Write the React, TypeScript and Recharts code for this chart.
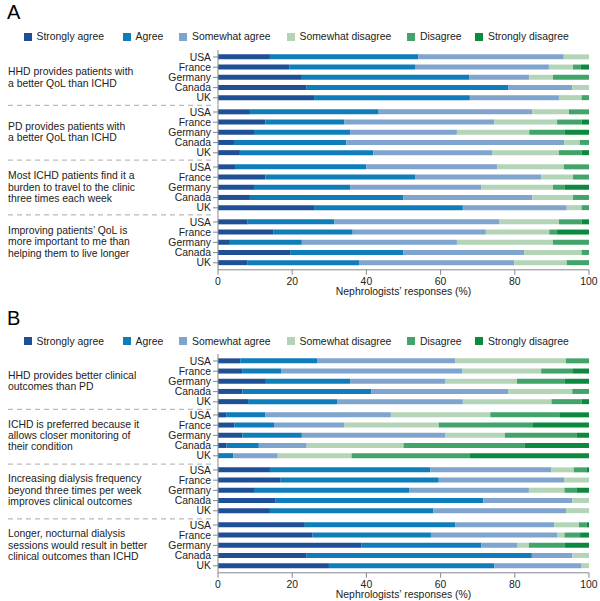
import React from "react";
import { Bar, BarChart, XAxis, YAxis } from "recharts";

const countries = ["USA", "France", "Germany", "Canada", "UK"];
const responseLevels = [
  "Strongly agree",
  "Agree",
  "Somewhat agree",
  "Somewhat disagree",
  "Disagree",
  "Strongly disagree",
];
const levelColors = ["#1f4f94", "#0f7dba", "#7fa4cd", "#b4d4b7", "#43a46a", "#0b8a3d"];
const xTicks = [0, 20, 40, 60, 80, 100];

// panel A - rows follow the countries order, columns follow responseLevels
const hhdBetterQol = [
  [14, 40, 39.2, 6.8, 0, 0],
  [19.2, 33.9, 36.1, 6.5, 2.0, 2.3],
  [22.6, 45.2, 16.1, 6.4, 9.7, 0],
  [23.9, 54.3, 17.3, 4.5, 0, 0],
  [25.9, 42, 24, 6.1, 2.0, 0],
];
const pdBetterQol = [
  [8.6, 34.7, 41.4, 9.9, 5.4, 0],
  [12.8, 21.3, 40.4, 16.9, 6.6, 2.0],
  [9.7, 25.9, 28.8, 19.5, 9.6, 6.5],
  [4.3, 30.3, 58.7, 4.2, 2.5, 0],
  [5.9, 36, 32.1, 17.9, 6.1, 2.0],
];
const travelBurden = [
  [4.8, 35.2, 35.3, 17.9, 6.8, 0],
  [12.8, 40.3, 34, 8.6, 4.3, 0],
  [9.7, 25.9, 35.4, 19.3, 3.2, 6.5],
  [8.6, 41.4, 34.7, 11, 4.3, 0],
  [25.9, 40.1, 28, 4, 2, 0],
];
const qolOverLongevity = [
  [8, 23.4, 44.5, 16, 6.1, 2],
  [15, 21.3, 35.9, 17.1, 2.1, 8.6],
  [3.2, 19.4, 41.8, 25.9, 9.7, 0],
  [19.6, 30.4, 32.6, 15.4, 2, 0],
  [8, 30, 41.9, 14.1, 6, 0],
];

// panel B
const hhdBetterOutcomes = [
  [6, 20.7, 37.2, 29.9, 6.2, 0],
  [6.5, 10.5, 48.9, 21.2, 8.4, 4.5],
  [12.9, 22.7, 25.6, 19.4, 12.9, 6.5],
  [6.6, 34.7, 37, 17.2, 4.5, 0],
  [8.1, 24, 33.9, 23.9, 8.1, 2],
];
const ichdMonitoring = [
  [2.2, 10.6, 33.8, 26.8, 18.6, 8],
  [4.4, 10.7, 19, 25.4, 25.4, 15.1],
  [6.6, 16, 38.6, 16.1, 19.3, 3.4],
  [2.3, 8.7, 12.9, 26.1, 32.6, 17.4],
  [0, 4.1, 12, 19.9, 31.9, 32.1],
];
const higherFrequency = [
  [14, 43.2, 32.7, 6, 3.4, 0.7],
  [16.9, 42.6, 33.9, 6.6, 0, 0],
  [9.7, 41.8, 32.3, 9.6, 3.2, 3.4],
  [15.4, 56.1, 24, 4.5, 0, 0],
  [14, 44, 35.8, 6.2, 0, 0],
];
const nocturnalSessions = [
  [23.4, 40.5, 26.7, 6.7, 2, 0.7],
  [25.5, 31.9, 34, 2, 4.2, 2.4],
  [38.6, 32.4, 9.6, 3.2, 9.7, 6.5],
  [23.9, 60.7, 10.9, 4.5, 0, 0],
  [29.9, 44.6, 23.5, 2, 0, 0],
];

const questionsA = [
  ["HHD provides patients with", "a better QoL than ICHD"],
  ["PD provides patients with", "a better QoL than ICHD"],
  ["Most ICHD patients find it a", "burden to travel to the clinic", "three times each week"],
  ["Improving patients\u2019 QoL is", "more important to me than", "helping them to live longer"],
];
const questionsB = [
  ["HHD provides better clinical", "outcomes than PD"],
  ["ICHD is preferred because it", "allows closer monitoring of", "their condition"],
  ["Increasing dialysis frequency", "beyond three times per week", "improves clinical outcomes"],
  ["Longer, nocturnal dialysis", "sessions would result in better", "clinical outcomes than ICHD"],
];

const FONT = "'Liberation Sans', Arial, sans-serif";
const FS = 10.4;
const GROUP_H = 54.8;
const AXIS_H = 20;
const PLOT_LEFT = 218;
const PLOT_RIGHT = 589;
const LEGEND_X = [23.5, 122.5, 179, 286.5, 407, 475];

function GroupChart({ values, showAxis }: { values: number[][]; showAxis: boolean }) {
  const data = countries.map((country, i) => {
    const row: Record<string, string | number> = { country };
    responseLevels.forEach((_, j) => {
      row["r" + j] = values[i][j];
    });
    return row;
  });
  return (
    <BarChart
      layout="vertical"
      width={600}
      height={GROUP_H + (showAxis ? AXIS_H : 0)}
      data={data}
      margin={{ top: 0, right: 600 - PLOT_RIGHT, bottom: 0, left: 0 }}
      barCategoryGap="24%"
    >
      <XAxis
        type="number"
        domain={[0, 100]}
        ticks={xTicks}
        hide={!showAxis}
        height={AXIS_H}
        tick={{ fontSize: FS, fill: "#222" }}
        tickSize={5}
        tickMargin={3}
        stroke="#888"
      />
      <YAxis
        type="category"
        dataKey="country"
        width={PLOT_LEFT}
        padding={{ top: 1.9, bottom: 1.9 }}
        tick={{ fontSize: FS, fill: "#222" }}
        tickSize={5}
        tickMargin={2}
        stroke="#888"
        interval={0}
      />
      {responseLevels.map((name, j) => (
        <Bar
          key={name}
          dataKey={"r" + j}
          name={name}
          stackId="s"
          fill={levelColors[j]}
          isAnimationActive={false}
        />
      ))}
    </BarChart>
  );
}

type PanelProps = {
  letter: string;
  letterTop: number;
  legendTop: number;
  plotTop: number;
  groups: number[][][];
  questions: string[][];
};

function Panel({ letter, letterTop, legendTop, plotTop, groups, questions }: PanelProps) {
  return (
    <>
      <div style={{ position: "absolute", left: 7, top: letterTop, fontSize: 20, lineHeight: "22px" }}>
        {letter}
      </div>
      {responseLevels.map((name, j) => (
        <div
          key={name}
          style={{
            position: "absolute",
            left: LEGEND_X[j],
            top: legendTop,
            height: 12,
            display: "flex",
            alignItems: "center",
            fontSize: FS,
            color: "#222",
            whiteSpace: "nowrap",
          }}
        >
          <span style={{ width: 8, height: 8, background: levelColors[j], marginRight: 5 }} />
          <span>{name}</span>
        </div>
      ))}
      <svg
        width={220}
        height={GROUP_H * 4}
        style={{ position: "absolute", left: 0, top: plotTop }}
      >
        {[1, 2, 3].map((k) => (
          <line
            key={k}
            x1={8}
            x2={212}
            y1={k * GROUP_H + 0.5}
            y2={k * GROUP_H + 0.5}
            stroke="#aaa"
            strokeDasharray="5 4"
          />
        ))}
      </svg>
      {groups.map((values, k) => (
        <div key={k} style={{ position: "absolute", left: 0, top: plotTop + k * GROUP_H }}>
          <GroupChart values={values} showAxis={k === groups.length - 1} />
        </div>
      ))}
      {questions.map((lines, k) => (
        <div
          key={k}
          style={{
            position: "absolute",
            left: 8,
            top: plotTop + k * GROUP_H,
            height: GROUP_H,
            display: "flex",
            flexDirection: "column",
            justifyContent: "center",
            fontSize: FS,
            lineHeight: "11.4px",
            color: "#222",
            whiteSpace: "nowrap",
          }}
        >
          {lines.map((l) => (
            <div key={l}>{l}</div>
          ))}
        </div>
      ))}
      <div
        style={{
          position: "absolute",
          left: PLOT_LEFT,
          width: PLOT_RIGHT - PLOT_LEFT,
          top: plotTop + GROUP_H * 4 + 16,
          textAlign: "center",
          fontSize: FS,
          lineHeight: "12px",
          color: "#222",
        }}
      >
        Nephrologists&#8217; responses (%)
      </div>
    </>
  );
}

export default function App() {
  return (
    <div
      style={{
        position: "absolute",
        left: 0,
        top: 0,
        width: 600,
        height: 601,
        background: "#fff",
        fontFamily: FONT,
        overflow: "hidden",
      }}
    >
      <Panel
        letter="A"
        letterTop={0.5}
        legendTop={30.5}
        plotTop={50.3}
        groups={[hhdBetterQol, pdBetterQol, travelBurden, qolOverLongevity]}
        questions={questionsA}
      />
      <Panel
        letter="B"
        letterTop={307}
        legendTop={335}
        plotTop={353.6}
        groups={[hhdBetterOutcomes, ichdMonitoring, higherFrequency, nocturnalSessions]}
        questions={questionsB}
      />
    </div>
  );
}
